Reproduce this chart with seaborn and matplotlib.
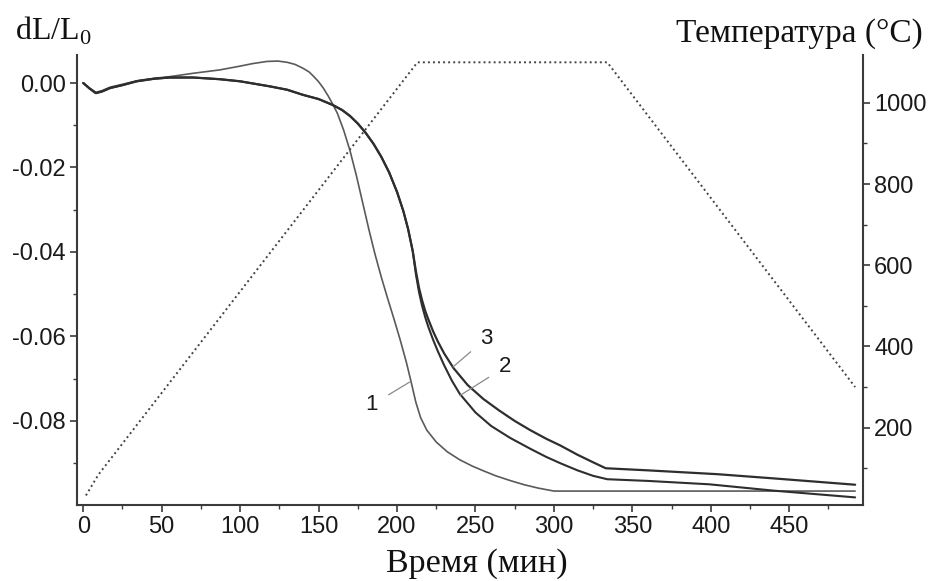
import numpy as np
import pandas as pd
import matplotlib
matplotlib.use("Agg")
import matplotlib.pyplot as plt
import seaborn as sns
from matplotlib.ticker import FixedLocator

# ---- data ----
t1 = [0, 4, 8, 12, 17, 25, 35, 45, 55, 70, 87, 100, 108, 117, 124, 130, 135, 140, 144, 147,
      150, 153, 156, 159, 162, 166, 170, 174, 178, 182, 186, 190, 194, 198, 202, 206, 209,
      212, 215, 219, 225, 232, 240, 248, 255, 263, 272, 281, 290, 300, 492]
y1 = [0.0000, -0.0012, -0.0022, -0.0018, -0.0010, -0.0003, 0.0006, 0.0011, 0.0015, 0.0023,
      0.0031, 0.0040, 0.0046, 0.0051, 0.0052, 0.0049, 0.0044, 0.0035, 0.0026, 0.0015,
      0.0003, -0.0012, -0.0030, -0.0050, -0.0072, -0.0112, -0.0160, -0.0218, -0.0282,
      -0.0346, -0.0406, -0.0460, -0.0510, -0.0558, -0.0608, -0.0662, -0.0708, -0.0756,
      -0.0792, -0.0822, -0.0850, -0.0873, -0.0892, -0.0907, -0.0918, -0.0930, -0.0941,
      -0.0951, -0.0959, -0.0966, -0.0966]

t_common = [0, 4, 8, 12, 17, 25, 34, 45, 55, 70, 87, 100, 119, 130, 140, 150, 159, 165, 170,
            175, 180, 185, 190, 195, 200, 204, 207, 210]
y_common = [0.0000, -0.0013, -0.0024, -0.0020, -0.0012, -0.0005, 0.0004, 0.0010, 0.0013,
            0.0013, 0.0009, 0.0004, -0.0008, -0.0016, -0.0028, -0.0038, -0.0052, -0.0064,
            -0.0078, -0.0096, -0.0118, -0.0144, -0.0175, -0.0212, -0.0258, -0.0303, -0.0345,
            -0.0398]

t3_tail = [212, 214, 216, 218, 220, 223, 226, 230, 236, 245, 255, 265, 275, 285, 295, 304,
           315, 325, 333, 360, 404, 440, 492]
y3_tail = [-0.0445, -0.0485, -0.0515, -0.0540, -0.0560, -0.0588, -0.0612, -0.0640, -0.0675,
           -0.0715, -0.0748, -0.0775, -0.0800, -0.0822, -0.0842, -0.0858, -0.0880, -0.0898,
           -0.0912, -0.0917, -0.0926, -0.0936, -0.0951]

t2_tail = [212, 214, 216, 218, 220, 223, 226, 230, 235, 240, 250, 260, 272, 285, 295, 304,
           315, 325, 334, 360, 399, 440, 492]
y2_tail = [-0.0452, -0.0495, -0.0528, -0.0555, -0.0578, -0.0608, -0.0635, -0.0668, -0.0705,
           -0.0736, -0.0780, -0.0812, -0.0840, -0.0866, -0.0885, -0.0900, -0.0917, -0.0930,
           -0.0938, -0.0942, -0.0950, -0.0965, -0.0981]

t_temp = [1.7, 9.6, 213, 334, 492]
temp = [33, 84, 1100, 1100, 300]

curve_labels = ["1", "2", "3"]
label_text_pos = [(184, -0.0762), (269, -0.0672), (257, -0.0604)]
label_point_pos = [(208, -0.0708), (240, -0.0740), (235.7, -0.0672)]

x_ticks = [0, 50, 100, 150, 200, 250, 300, 350, 400, 450]
x_minor = [25, 75, 125, 175, 225, 275, 325, 375, 425, 475]
yl_ticks = [0.00, -0.02, -0.04, -0.06, -0.08]
yl_labels = ["0.00", "-0.02", "-0.04", "-0.06", "-0.08"]
yl_minor = [-0.01, -0.03, -0.05, -0.07, -0.09]
yr_ticks = [200, 400, 600, 800, 1000]
yr_minor = [100, 300, 500, 700, 900]

# ---- build tables ----
t2 = t_common + t2_tail
y2 = y_common + y2_tail
t3 = t_common + t3_tail
y3 = y_common + y3_tail
df = pd.concat([
    pd.DataFrame({"t": t1, "y": y1, "curve": "1"}),
    pd.DataFrame({"t": t2, "y": y2, "curve": "2"}),
    pd.DataFrame({"t": t3, "y": y3, "curve": "3"}),
], ignore_index=True)
df_temp = pd.DataFrame({"t": t_temp, "T": temp})

sns.set_style("ticks")
plt.rcParams["font.family"] = ["Liberation Sans", "DejaVu Sans"]
plt.rcParams["mathtext.fontset"] = "custom"
plt.rcParams["mathtext.rm"] = "Liberation Serif"

fig = plt.figure(figsize=(9.29, 5.81), dpi=100)
ax = fig.add_axes([77 / 929, 1 - 505 / 581, (863 - 77) / 929, (505 - 55) / 581])
ax2 = ax.twinx()

spine_col = "#3a3a3a"

# temperature (right axis)
sns.lineplot(data=df_temp, x="t", y="T", ax=ax2, color="#444444", lw=1.4,
             linestyle=(0, (1, 1.6)), estimator=None, sort=False)

# dilatometric curves
styles = {"1": dict(color="#5a5a5a", lw=1.2), "2": dict(color="#2e2e2e", lw=1.5),
          "3": dict(color="#2e2e2e", lw=1.6)}
for c in ["1", "2", "3"]:
    sub = df[df["curve"] == c]
    sns.lineplot(data=sub, x="t", y="y", ax=ax, estimator=None, sort=False, **styles[c])

ax.set_zorder(ax2.get_zorder() + 1)
ax.patch.set_visible(False)

ax.set_xlim(-4, 497)
ax.set_ylim(-0.0999, 0.00663)
ax2.set_ylim(9.5, 1118)

ax.set_xticks(x_ticks)
ax.xaxis.set_minor_locator(FixedLocator(x_minor))
ax.set_yticks(yl_ticks)
ax.set_yticklabels(yl_labels)
ax.yaxis.set_minor_locator(FixedLocator(yl_minor))
ax2.set_yticks(yr_ticks)
ax2.yaxis.set_minor_locator(FixedLocator(yr_minor))

for a in (ax, ax2):
    a.set_xlabel("")
    a.set_ylabel("")
    a.tick_params(which="major", length=5, width=1.2, color=spine_col, labelsize=17,
                  labelcolor="#1a1a1a", pad=3)
    a.tick_params(which="minor", length=3, width=1.0, color=spine_col)
    a.spines["top"].set_visible(False)
    for s in ["left", "right", "bottom"]:
        a.spines[s].set_color(spine_col)
        a.spines[s].set_linewidth(1.5)
ax.spines["right"].set_visible(False)
ax2.spines["left"].set_visible(False)
ax2.spines["bottom"].set_visible(False)

# curve labels
for lab, tp, pp in zip(curve_labels, label_text_pos, label_point_pos):
    ax.annotate(lab, xy=pp, xytext=tp, ha="center", va="center", fontsize=16,
                color="#1a1a1a",
                arrowprops=dict(arrowstyle="-", color="#8a8a8a", lw=0.9, shrinkA=6, shrinkB=0))

serif = ["Liberation Serif", "DejaVu Serif"]
fig.text(15 / 929, 1 - 40 / 581, r"dL/L$_{\mathrm{0}}$", family=serif, fontsize=23,
         ha="left", va="baseline", color="#111111")
fig.text(923 / 929, 1 - 42 / 581, "Температура (°C)", family=serif, fontsize=24,
         ha="right", va="baseline", color="#111111")
fig.text(477 / 929, 1 - 572 / 581, "Время (мин)", family=serif, fontsize=24.5,
         ha="center", va="baseline", color="#111111")

fig.savefig("out.png", dpi=100)
